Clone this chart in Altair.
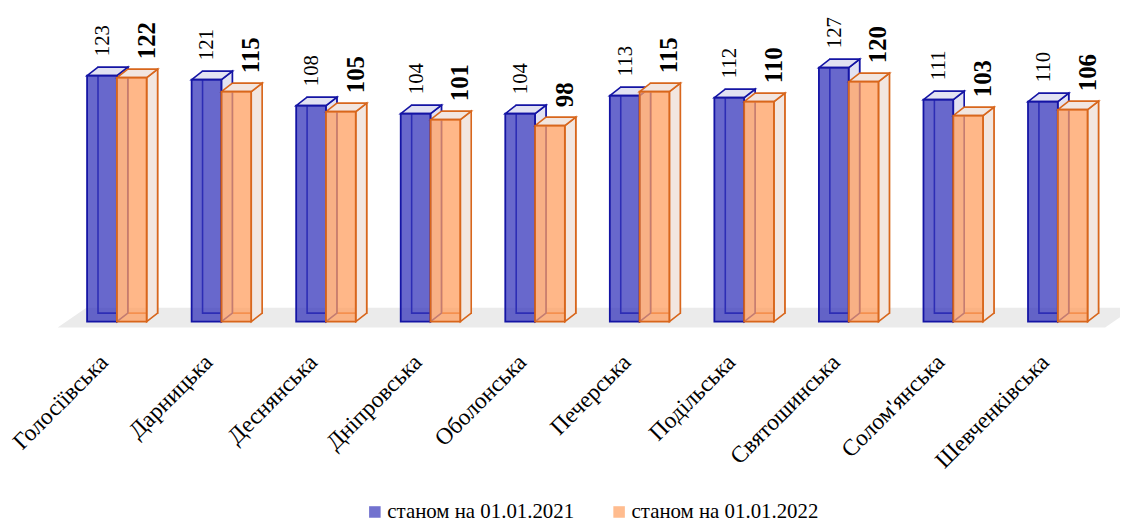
import json
import altair as alt
import pandas as pd

# ---------------- data ----------------
cats = ["Голосіївська", "Дарницька", "Деснянська", "Дніпровська", "Оболонська",
        "Печерська", "Подільська", "Святошинська", "Солом'янська", "Шевченківська"]
v2021 = [123, 121, 108, 104, 104, 113, 112, 127, 111, 110]
v2022 = [122, 115, 105, 101, 98, 115, 110, 120, 103, 106]
series = ["станом на 01.01.2021", "станом на 01.01.2022"]

rows = []
for i, c in enumerate(cats):
    for s, vals in enumerate([v2021, v2022]):
        rows.append({"cat": c, "idx": i, "s": s, "series": series[s],
                     "value": vals[i], "bar": f"{i}-{s}"})
df = pd.DataFrame(rows)

# ---------------- geometry / style ----------------
W, H = 1053, 282
YMAX = 140
N = len(cats)
PXX = W / N          # pixels per category unit
PXY = H / YMAX       # pixels per value unit
BW = 30 / PXX        # bar width (units)
DX = 11 / PXX        # depth x (units)
DY = 8.5 / PXY       # depth y (units)

front_fill = ["#3636bb", "#ff9f60"]
edge = ["#1414a4", "#d8661c"]
face_fill = ["#e2e2f2", "#f2e6e0"]
SERIF = "Liberation Serif"

xs = alt.Scale(domain=[-0.5, N - 0.5], nice=False, zero=False)
ys = alt.Scale(domain=[0, YMAX], nice=False, zero=False)

label_expr = json.dumps(cats, ensure_ascii=False) + "[datum.value]"
xaxis = alt.Axis(values=list(range(N)), labelExpr=label_expr, title=None,
                 ticks=False, tickSize=0, domain=False, grid=False,
                 labelAngle=-45, labelAlign="right", labelBaseline="middle",
                 labelPadding=37, labelOffset=-13, labelOverlap=False, labelFlush=False,
                 labelBound=False, labelFont=SERIF, labelFontSize=23.5,
                 labelColor="#000000", labelLimit=400)

stroke_enc = alt.condition("datum.s == 0", alt.value(edge[0]), alt.value(edge[1]))
face_enc = alt.condition("datum.s == 0", alt.value(face_fill[0]), alt.value(face_fill[1]))

base = alt.Chart(df).transform_calculate(
    xl=f"datum.idx - {BW} + datum.s * {BW}",
    xr=f"datum.idx + datum.s * {BW}",
)

# floor (derived from category extent)
floor_df = pd.DataFrame({"k": [0, 1]})
floor = alt.Chart(floor_df).transform_calculate(
    fy=f"datum.k == 0 ? {-6 / PXY} : {14 / PXY}",
    fx=f"{-0.5 - 7 / PXX} + datum.k * {29 / PXX}",
    fx2=f"{N - 0.5 - 5 / PXX} + datum.k * {29 / PXX}",
).mark_area(orient="horizontal", color="#ebebeb").encode(
    y=alt.Y("fy:Q", scale=ys, axis=None),
    x=alt.X("fx:Q", scale=xs, axis=xaxis),
    x2="fx2:Q",
)

# back edges (seen through the front)
back = base.transform_calculate(
    bx=f"datum.xl + {DX}", bx2=f"datum.xr + {DX}",
    by=f"{DY}", by2=f"datum.value + {DY}",
).mark_rect(fillOpacity=0, strokeWidth=1.6).encode(
    x=alt.X("bx:Q", scale=xs, axis=xaxis), x2="bx2:Q",
    y=alt.Y("by:Q", scale=ys, axis=None), y2="by2:Q",
    stroke=stroke_enc,
)

flat = base.transform_calculate(k="[0, 1]").transform_flatten(["k"])

side = flat.transform_calculate(
    sx=f"datum.xr + datum.k * {DX}",
    sy0=f"datum.k * {DY}",
    sy1=f"datum.value + datum.k * {DY}",
).mark_area(orient="vertical", strokeWidth=1.6).encode(
    x=alt.X("sx:Q", scale=xs, axis=xaxis),
    y=alt.Y("sy1:Q", scale=ys, axis=None, stack=None), y2="sy0:Q",
    fill=face_enc,
    stroke=stroke_enc,
    detail="bar:N",
)

top = flat.transform_calculate(
    ty=f"datum.value + datum.k * {DY}",
    tx=f"datum.xl + datum.k * {DX}",
    tx2=f"datum.xr + datum.k * {DX}",
).mark_area(orient="horizontal", strokeWidth=1.6).encode(
    y=alt.Y("ty:Q", scale=ys, axis=None, stack=None),
    x=alt.X("tx:Q", scale=xs, axis=xaxis), x2="tx2:Q",
    fill=face_enc,
    stroke=stroke_enc,
    detail="bar:N",
)

front = base.mark_rect(fillOpacity=0.75, strokeWidth=1.8).encode(
    x=alt.X("xl:Q", scale=xs, axis=xaxis), x2="xr:Q",
    y=alt.Y("value:Q", scale=ys, axis=None), y2=alt.datum(0),
    color=alt.Color("series:N", scale=alt.Scale(domain=series, range=front_fill),
                    legend=alt.Legend(title=None, orient="none", legendX=302, legendY=463,
                                      direction="horizontal", symbolType="square",
                                      symbolSize=135, labelFont=SERIF, labelFontSize=21,
                                      labelColor="#000000", columnPadding=34,
                                      labelOffset=2, padding=0, symbolStrokeWidth=0,
                                      symbolOpacity=0.7, labelLimit=400)),
    stroke=stroke_enc,
)

labels = base.transform_calculate(
    lx=f"datum.xl + {BW / 2} + (1 + 14 * datum.s) / {PXX}",
    ly=f"datum.value + {DY} + (11 - 1 * datum.s) / {PXY}",
)

lab_a = labels.transform_filter("datum.s == 0").mark_text(
    angle=270, align="left", baseline="middle", font=SERIF, fontSize=21, color="#000000"
).encode(x=alt.X("lx:Q", scale=xs, axis=xaxis), y=alt.Y("ly:Q", scale=ys, axis=None),
         text="value:Q")

lab_b = labels.transform_filter("datum.s == 1").mark_text(
    angle=270, align="left", baseline="middle", font=SERIF, fontSize=25,
    fontWeight="bold", color="#000000"
).encode(x=alt.X("lx:Q", scale=xs, axis=xaxis), y=alt.Y("ly:Q", scale=ys, axis=None),
         text="value:Q")

chart = alt.layer(floor, back, side, top, front, lab_a, lab_b).properties(
    width=W, height=H,
    autosize=alt.AutoSizeParams(type="none"),
    padding={"left": 57, "top": 32, "right": 10, "bottom": 202},
).configure(font=SERIF).configure_view(strokeWidth=0).configure_axis(
    labelFont=SERIF).configure_legend(labelFont=SERIF)

chart.save("out.html", embed_options={"renderer": "svg", "actions": False})
